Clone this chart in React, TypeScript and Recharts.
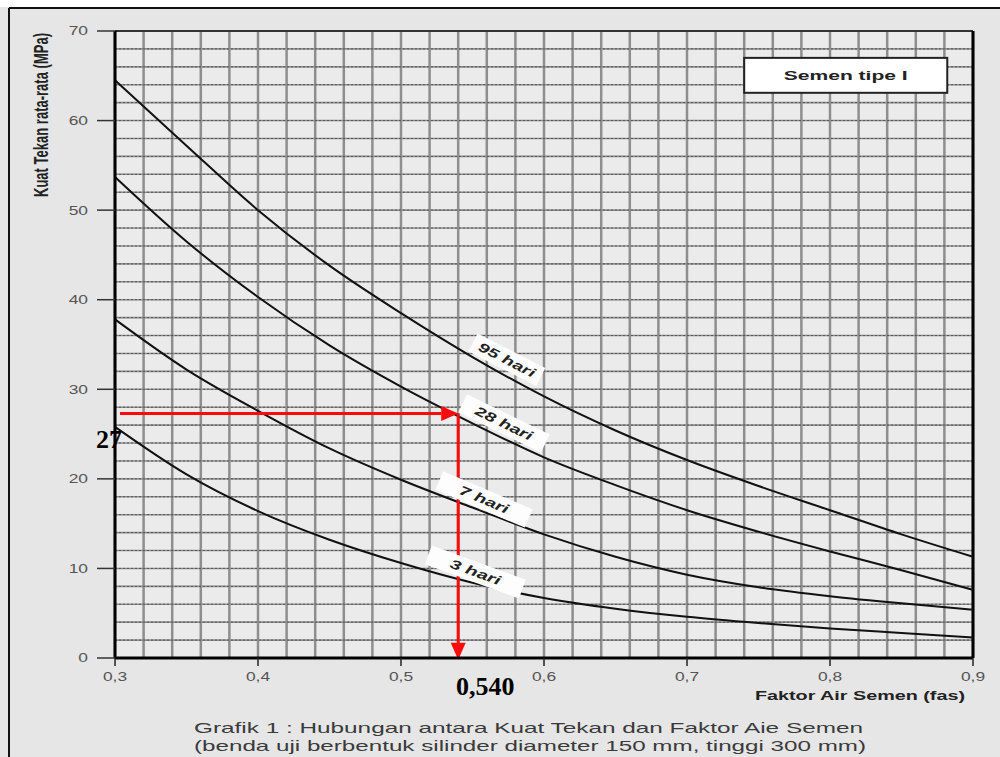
import React from 'react';
import {
  LineChart,
  Line,
  XAxis,
  YAxis,
  CartesianGrid,
  ReferenceLine,
  ReferenceDot,
} from 'recharts';

// faktor air semen (fas) vs kuat tekan (MPa)
const fas = [0.3, 0.35, 0.4, 0.45, 0.5, 0.55, 0.6, 0.65, 0.7, 0.75, 0.8, 0.85, 0.9];
const hari95 = [64.5, 57.2, 50.0, 43.8, 38.5, 33.6, 29.2, 25.4, 22.1, 19.2, 16.5, 13.8, 11.3];
const hari28 = [53.7, 46.5, 40.3, 34.9, 30.3, 26.2, 22.4, 19.3, 16.5, 14.1, 11.9, 9.8, 7.6];
const hari7 = [37.8, 32.2, 27.6, 23.4, 19.9, 16.8, 13.8, 11.3, 9.3, 7.9, 6.9, 6.1, 5.4];
const hari3 = [25.8, 20.5, 16.4, 13.2, 10.6, 8.4, 6.7, 5.5, 4.6, 3.9, 3.3, 2.8, 2.3];

const xTicks = [0.3, 0.4, 0.5, 0.6, 0.7, 0.8, 0.9];
const yTicks = [0, 10, 20, 30, 40, 50, 60, 70];

// grid every 0.02 fas and every 2 MPa
const gridFas = Array.from({ length: 29 }, (_, i) => +(0.32 + i * 0.02).toFixed(2));
const gridMpa = Array.from({ length: 34 }, (_, i) => 2 + i * 2);

const curveNames = ['95 hari', '28 hari', '7 hari', '3 hari'];

// reading from the chart: fas 0,540 -> 27 MPa at 28 hari
const readFas = 0.54;
const readMpa = 27.3;

const data = fas.map((f, i) => ({
  fas: f,
  h95: hari95[i],
  h28: hari28[i],
  h7: hari7[i],
  h3: hari3[i],
}));

// where the white name tags sit on the curves
const tagPlace = [
  { x: 0.574, y: 33.3, angle: 27, w: 76, len: 62 },
  { x: 0.572, y: 26.2, angle: 26, w: 92, len: 62 },
  { x: 0.558, y: 17.7, angle: 23, w: 97, len: 52 },
  { x: 0.552, y: 9.6, angle: 20, w: 100, len: 53 },
];

// "Semen tipe I" box corners in data units
const boxFrom = { x: 0.74, y: 67 };
const boxTo = { x: 0.882, y: 63.1 };

const STRETCH = 1.45;
const sans = '"Liberation Sans", Arial, sans-serif';
const serif = '"Liberation Serif", "Times New Roman", serif';

const YTick = (props: any) => {
  const { x, y, payload } = props;
  return (
    <text
      x={x}
      y={y}
      textAnchor="end"
      dominantBaseline="central"
      fontSize={12}
      fill="#555"
      fontFamily={sans}
      transform={`translate(${x} ${y}) scale(${STRETCH} 1) translate(${-x} ${-y})`}
    >
      {payload.value}
    </text>
  );
};

const XTick = (props: any) => {
  const { x, y, payload } = props;
  const ty = y + 13;
  return (
    <text
      x={x}
      y={ty}
      textAnchor="middle"
      fontSize={12}
      fill="#555"
      fontFamily={sans}
      transform={`translate(${x} ${ty}) scale(${STRETCH} 1) translate(${-x} ${-ty})`}
    >
      {payload.value.toFixed(1).replace('.', ',')}
    </text>
  );
};

const RedArrow = (props: any) => {
  const { x1, y1, x2, y2 } = props;
  const dx = x2 - x1;
  const dy = y2 - y1;
  const d = Math.sqrt(dx * dx + dy * dy) || 1;
  const ux = dx / d;
  const uy = dy / d;
  const head = 17;
  const half = 7.5;
  const bx = x2 - ux * head;
  const by = y2 - uy * head;
  return (
    <g>
      <line x1={x1} y1={y1} x2={bx} y2={by} stroke="#ff0a0a" strokeWidth={3} />
      <polygon
        points={`${x2},${y2} ${bx - uy * half},${by + ux * half} ${bx + uy * half},${by - ux * half}`}
        fill="#ff0a0a"
      />
    </g>
  );
};

// horizontal grid line: light solid line with a dotted darker line on it
const GridRow = (props: any) => {
  const { x1, y1, x2, y2 } = props;
  return (
    <g>
      <line x1={x1} y1={y1} x2={x2} y2={y2} stroke="#8c8c8c" strokeWidth={1.6} />
      <line x1={x1} y1={y1} x2={x2} y2={y2} stroke="#555" strokeWidth={1} strokeDasharray="2 2" />
    </g>
  );
};

// legend box drawn between the two corners of a segment
const LegendBox = (props: any) => {
  const { x1, y1, x2, y2 } = props;
  const x = Math.min(x1, x2);
  const y = Math.min(y1, y2);
  const w = Math.abs(x2 - x1);
  const h = Math.abs(y2 - y1);
  return (
    <g>
      <rect x={x} y={y} width={w} height={h} fill="#fff" stroke="#222" strokeWidth={2} />
      <text
        x={x + w / 2}
        y={y + h / 2 + 4.5}
        textAnchor="middle"
        fontSize={13}
        fontWeight="bold"
        fill="#222"
        fontFamily={sans}
        textLength={124}
        lengthAdjust="spacingAndGlyphs"
      >
        Semen tipe  I
      </text>
    </g>
  );
};

const makeTag = (i: number) => (props: any) => {
  const { cx, cy } = props;
  const p = tagPlace[i];
  return (
    <g transform={`translate(${cx} ${cy}) rotate(${p.angle})`}>
      <rect x={-p.w / 2} y={-10} width={p.w} height={20} fill="#fdfdfd" />
      <text
        x={0}
        y={0}
        textAnchor="middle"
        dominantBaseline="central"
        fontSize={13}
        fontWeight="bold"
        fontStyle="italic"
        fill="#222"
        fontFamily={sans}
        textLength={p.len}
        lengthAdjust="spacingAndGlyphs"
      >
        {curveNames[i]}
      </text>
    </g>
  );
};

export default function App() {
  return (
    <div
      style={{
        position: 'absolute',
        left: 0,
        top: 0,
        width: 1000,
        height: 757,
        background: '#e6e6e6',
      }}
    >
      <LineChart
        width={1000}
        height={757}
        data={data}
        margin={{ top: 31, right: 27, bottom: 59, left: 0 }}
      >
        {/* vertical grid from a hidden dense axis */}
        <XAxis
          xAxisId="grid"
          type="number"
          dataKey="fas"
          domain={[0.3, 0.9]}
          ticks={gridFas}
          interval={0}
          hide
        />
        <CartesianGrid
          xAxisId="grid"
          horizontal={false}
          stroke="#8e8e8e"
          strokeWidth={2.5}
          fill="#ebebeb"
        />

        {gridMpa.map((v) => (
          <ReferenceLine key={'g' + v} y={v} shape={<GridRow />} />
        ))}

        <XAxis
          type="number"
          dataKey="fas"
          domain={[0.3, 0.9]}
          ticks={xTicks}
          interval={0}
          height={40}
          tickSize={8}
          tickMargin={2}
          tick={<XTick />}
          axisLine={{ stroke: '#000', strokeWidth: 3 }}
          tickLine={{ stroke: '#222', strokeWidth: 1.5 }}
        />
        <YAxis
          type="number"
          domain={[0, 70]}
          ticks={yTicks}
          interval={0}
          width={115}
          tickSize={18}
          tickMargin={9}
          tick={<YTick />}
          axisLine={{ stroke: '#000', strokeWidth: 3 }}
          tickLine={{ stroke: '#333', strokeWidth: 1.5 }}
        />

        <ReferenceLine y={70} stroke="#333" strokeWidth={2} />
        <ReferenceLine x={0.9} stroke="#000" strokeWidth={3} />

        <ReferenceLine segment={[boxFrom, boxTo]} shape={<LegendBox />} />

        <Line type="monotone" dataKey="h95" stroke="#111" strokeWidth={2} dot={false} isAnimationActive={false} />
        <Line type="monotone" dataKey="h28" stroke="#111" strokeWidth={2} dot={false} isAnimationActive={false} />
        <Line type="monotone" dataKey="h7" stroke="#111" strokeWidth={2} dot={false} isAnimationActive={false} />
        <Line type="monotone" dataKey="h3" stroke="#111" strokeWidth={2} dot={false} isAnimationActive={false} />

        {tagPlace.map((p, i) => (
          <ReferenceDot key={curveNames[i]} x={p.x} y={p.y} r={1} shape={makeTag(i)} />
        ))}

        <ReferenceLine
          segment={[
            { x: 0.3035, y: readMpa },
            { x: readFas, y: readMpa },
          ]}
          shape={<RedArrow />}
        />
        <ReferenceLine
          segment={[
            { x: readFas, y: readMpa },
            { x: readFas, y: -0.2 },
          ]}
          ifOverflow="visible"
          shape={<RedArrow />}
        />
      </LineChart>

      <svg
        width={1000}
        height={757}
        style={{ position: 'absolute', left: 0, top: 0, pointerEvents: 'none' }}
      >
        <rect x={0} y={0} width={1000} height={7} fill="#ffffff" />
        <line x1={9} y1={8} x2={1000} y2={8} stroke="#111" strokeWidth={2} />
        <line x1={9} y1={8} x2={9} y2={757} stroke="#111" strokeWidth={2} />

        <text
          transform="translate(48 115) rotate(-90) scale(1 1.45)"
          x={0}
          y={0}
          textAnchor="middle"
          fontSize={14}
          fontWeight="bold"
          fill="#222"
          fontFamily={sans}
          textLength={164}
          lengthAdjust="spacingAndGlyphs"
        >
          Kuat Tekan rata-rata (MPa)
        </text>

        <text
          x={755}
          y={700}
          fontSize={13}
          fontWeight="bold"
          fill="#222"
          fontFamily={sans}
          textLength={210}
          lengthAdjust="spacingAndGlyphs"
        >
          Faktor Air Semen (fas)
        </text>

        <text
          x={194}
          y={733}
          fontSize={15}
          fill="#3a3a3a"
          fontFamily={sans}
          textLength={669}
          lengthAdjust="spacingAndGlyphs"
        >
          Grafik 1 : Hubungan antara Kuat Tekan dan Faktor Aie Semen
        </text>
        <text
          x={194}
          y={751}
          fontSize={15}
          fill="#3a3a3a"
          fontFamily={sans}
          textLength={672}
          lengthAdjust="spacingAndGlyphs"
        >
          (benda uji berbentuk silinder diameter 150 mm, tinggi 300 mm)
        </text>

        <text x={96} y={448} fontSize={26} fontWeight="bold" fill="#000" fontFamily={serif}>
          27
        </text>
        <text x={456} y={695} fontSize={26} fontWeight="bold" fill="#000" fontFamily={serif}>
          0,540
        </text>
      </svg>
    </div>
  );
}
